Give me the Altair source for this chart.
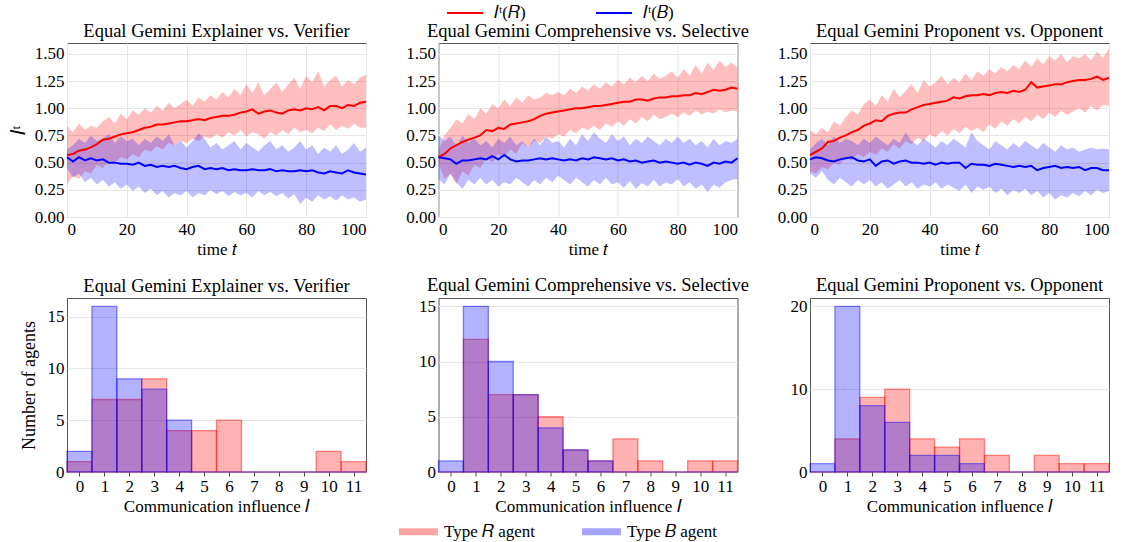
import altair as alt
import pandas as pd

FONT = "Liberation Serif"
FS = 17
TFS = 18.5

T = list(range(0, 101, 2))

# ---- Explainer vs. Verifier ----
EV_R_MEAN = [0.57, 0.58, 0.61, 0.62, 0.64, 0.67, 0.71, 0.72, 0.74, 0.76, 0.77, 0.78, 0.80, 0.82, 0.83, 0.85, 0.85, 0.86, 0.87, 0.88, 0.88, 0.89, 0.90, 0.89, 0.91, 0.92, 0.93, 0.93, 0.94, 0.96, 0.97, 0.99, 0.95, 0.97, 0.98, 0.96, 0.95, 0.98, 0.99, 0.98, 1.00, 0.99, 1.01, 0.98, 1.02, 1.02, 1.00, 1.03, 1.02, 1.05, 1.06]
EV_R_HI = [0.84, 0.78, 0.86, 0.80, 0.84, 0.82, 0.88, 0.92, 0.86, 0.95, 0.90, 0.98, 0.94, 1.00, 0.96, 1.02, 0.98, 1.05, 1.00, 1.04, 1.08, 1.02, 1.10, 1.06, 1.12, 1.08, 1.15, 1.10, 1.18, 1.12, 1.22, 1.14, 1.24, 1.12, 1.18, 1.24, 1.15, 1.22, 1.28, 1.18, 1.30, 1.24, 1.34, 1.20, 1.26, 1.30, 1.20, 1.26, 1.22, 1.28, 1.31]
EV_R_LO = [0.30, 0.38, 0.35, 0.42, 0.40, 0.48, 0.45, 0.52, 0.50, 0.55, 0.53, 0.58, 0.55, 0.62, 0.60, 0.65, 0.62, 0.68, 0.66, 0.70, 0.68, 0.72, 0.70, 0.74, 0.72, 0.76, 0.73, 0.78, 0.75, 0.80, 0.74, 0.78, 0.76, 0.72, 0.78, 0.75, 0.80, 0.76, 0.82, 0.78, 0.80, 0.77, 0.82, 0.79, 0.85, 0.80, 0.84, 0.81, 0.86, 0.82, 0.82]
EV_B_MEAN = [0.55, 0.51, 0.55, 0.52, 0.54, 0.52, 0.53, 0.50, 0.50, 0.49, 0.49, 0.48, 0.50, 0.47, 0.48, 0.46, 0.47, 0.46, 0.47, 0.45, 0.44, 0.46, 0.47, 0.44, 0.45, 0.44, 0.45, 0.43, 0.44, 0.43, 0.43, 0.44, 0.43, 0.43, 0.44, 0.42, 0.43, 0.42, 0.42, 0.43, 0.42, 0.43, 0.41, 0.40, 0.42, 0.41, 0.40, 0.43, 0.41, 0.40, 0.39]
EV_B_HI = [0.62, 0.66, 0.72, 0.68, 0.75, 0.70, 0.72, 0.76, 0.68, 0.74, 0.70, 0.72, 0.66, 0.72, 0.68, 0.74, 0.70, 0.76, 0.66, 0.70, 0.64, 0.70, 0.77, 0.72, 0.64, 0.68, 0.62, 0.66, 0.70, 0.62, 0.68, 0.64, 0.60, 0.66, 0.70, 0.62, 0.66, 0.60, 0.64, 0.70, 0.62, 0.66, 0.58, 0.64, 0.60, 0.66, 0.58, 0.62, 0.68, 0.60, 0.64]
EV_B_LO = [0.45, 0.36, 0.40, 0.32, 0.36, 0.30, 0.34, 0.28, 0.32, 0.26, 0.30, 0.24, 0.28, 0.22, 0.26, 0.20, 0.24, 0.18, 0.22, 0.20, 0.24, 0.18, 0.22, 0.20, 0.25, 0.21, 0.24, 0.19, 0.23, 0.20, 0.22, 0.18, 0.24, 0.20, 0.23, 0.19, 0.22, 0.17, 0.21, 0.12, 0.18, 0.14, 0.20, 0.16, 0.19, 0.15, 0.20, 0.16, 0.18, 0.14, 0.16]

# ---- Comprehensive vs. Selective ----
CS_R_MEAN = [0.55, 0.58, 0.63, 0.66, 0.69, 0.71, 0.73, 0.75, 0.80, 0.79, 0.82, 0.81, 0.85, 0.86, 0.87, 0.88, 0.90, 0.93, 0.95, 0.96, 0.97, 0.98, 0.99, 1.00, 1.00, 1.01, 1.02, 1.02, 1.03, 1.04, 1.05, 1.06, 1.06, 1.08, 1.08, 1.07, 1.09, 1.10, 1.10, 1.11, 1.11, 1.12, 1.12, 1.14, 1.13, 1.15, 1.17, 1.16, 1.17, 1.19, 1.18]
CS_R_HI = [0.60, 0.75, 0.82, 0.90, 0.86, 0.95, 0.90, 1.00, 0.95, 1.04, 1.00, 1.08, 1.02, 1.10, 1.05, 1.12, 1.08, 1.10, 1.14, 1.12, 1.15, 1.12, 1.18, 1.14, 1.20, 1.16, 1.22, 1.18, 1.24, 1.20, 1.26, 1.22, 1.28, 1.24, 1.30, 1.25, 1.32, 1.27, 1.30, 1.34, 1.28, 1.36, 1.30, 1.40, 1.32, 1.42, 1.35, 1.44, 1.38, 1.42, 1.37]
CS_R_LO = [0.50, 0.35, 0.40, 0.30, 0.42, 0.38, 0.48, 0.45, 0.55, 0.50, 0.58, 0.55, 0.62, 0.58, 0.68, 0.64, 0.70, 0.68, 0.74, 0.72, 0.76, 0.74, 0.80, 0.77, 0.82, 0.80, 0.84, 0.80, 0.86, 0.83, 0.88, 0.84, 0.90, 0.86, 0.92, 0.88, 0.94, 0.90, 0.92, 0.95, 0.92, 0.96, 0.93, 0.98, 0.94, 0.97, 0.95, 0.99, 0.96, 0.98, 0.97]
CS_B_MEAN = [0.55, 0.54, 0.53, 0.49, 0.52, 0.52, 0.53, 0.54, 0.53, 0.56, 0.53, 0.57, 0.53, 0.51, 0.52, 0.52, 0.53, 0.54, 0.53, 0.54, 0.53, 0.52, 0.53, 0.52, 0.54, 0.53, 0.55, 0.54, 0.53, 0.54, 0.52, 0.53, 0.51, 0.52, 0.50, 0.51, 0.52, 0.50, 0.51, 0.50, 0.49, 0.50, 0.48, 0.50, 0.49, 0.47, 0.50, 0.49, 0.51, 0.50, 0.54]
CS_B_HI = [0.75, 0.70, 0.74, 0.65, 0.75, 0.68, 0.72, 0.66, 0.70, 0.64, 0.72, 0.68, 0.74, 0.66, 0.70, 0.64, 0.72, 0.66, 0.74, 0.68, 0.70, 0.64, 0.72, 0.66, 0.76, 0.70, 0.78, 0.72, 0.68, 0.76, 0.70, 0.74, 0.66, 0.72, 0.68, 0.74, 0.70, 0.66, 0.72, 0.68, 0.74, 0.68, 0.72, 0.66, 0.70, 0.64, 0.72, 0.66, 0.70, 0.68, 0.72]
CS_B_LO = [0.35, 0.30, 0.40, 0.32, 0.26, 0.34, 0.30, 0.36, 0.30, 0.34, 0.28, 0.32, 0.30, 0.36, 0.32, 0.28, 0.34, 0.30, 0.36, 0.32, 0.38, 0.34, 0.30, 0.36, 0.32, 0.28, 0.34, 0.30, 0.36, 0.30, 0.32, 0.27, 0.33, 0.26, 0.31, 0.28, 0.34, 0.28, 0.32, 0.30, 0.35, 0.28, 0.32, 0.26, 0.30, 0.23, 0.30, 0.27, 0.32, 0.34, 0.35]

# ---- Proponent vs. Opponent ----
PO_R_MEAN = [0.57, 0.60, 0.63, 0.69, 0.70, 0.73, 0.75, 0.78, 0.80, 0.84, 0.86, 0.89, 0.88, 0.93, 0.95, 0.96, 0.96, 0.99, 1.01, 1.03, 1.04, 1.05, 1.06, 1.07, 1.10, 1.09, 1.11, 1.12, 1.12, 1.13, 1.12, 1.14, 1.15, 1.14, 1.16, 1.15, 1.17, 1.24, 1.19, 1.20, 1.21, 1.22, 1.22, 1.24, 1.25, 1.26, 1.26, 1.27, 1.29, 1.26, 1.28]
PO_R_HI = [0.80, 0.76, 0.82, 0.78, 0.88, 0.84, 0.92, 0.98, 0.94, 1.04, 1.08, 1.02, 1.12, 1.06, 1.18, 1.10, 1.16, 1.22, 1.14, 1.26, 1.20, 1.24, 1.30, 1.22, 1.28, 1.24, 1.32, 1.26, 1.34, 1.30, 1.36, 1.32, 1.38, 1.34, 1.40, 1.36, 1.44, 1.38, 1.46, 1.40, 1.48, 1.44, 1.50, 1.42, 1.48, 1.46, 1.50, 1.44, 1.52, 1.46, 1.55]
PO_R_LO = [0.42, 0.40, 0.46, 0.44, 0.50, 0.48, 0.55, 0.52, 0.58, 0.55, 0.60, 0.57, 0.63, 0.60, 0.67, 0.63, 0.70, 0.67, 0.73, 0.70, 0.76, 0.73, 0.79, 0.75, 0.81, 0.77, 0.83, 0.79, 0.82, 0.78, 0.85, 0.81, 0.88, 0.84, 0.90, 0.86, 0.92, 0.88, 0.94, 0.90, 0.96, 0.92, 0.98, 0.94, 0.97, 1.00, 0.96, 1.02, 0.98, 1.03, 1.02]
PO_B_MEAN = [0.53, 0.55, 0.54, 0.52, 0.51, 0.53, 0.54, 0.55, 0.52, 0.51, 0.53, 0.47, 0.51, 0.52, 0.49, 0.51, 0.52, 0.50, 0.50, 0.49, 0.50, 0.48, 0.50, 0.49, 0.50, 0.50, 0.45, 0.49, 0.48, 0.48, 0.47, 0.49, 0.48, 0.47, 0.46, 0.47, 0.46, 0.47, 0.43, 0.45, 0.46, 0.47, 0.45, 0.46, 0.45, 0.46, 0.43, 0.45, 0.45, 0.43, 0.43]
PO_B_HI = [0.62, 0.68, 0.72, 0.66, 0.74, 0.68, 0.72, 0.70, 0.66, 0.72, 0.68, 0.74, 0.70, 0.66, 0.72, 0.68, 0.78, 0.70, 0.66, 0.72, 0.68, 0.64, 0.70, 0.66, 0.72, 0.68, 0.64, 0.78, 0.70, 0.66, 0.62, 0.70, 0.66, 0.62, 0.68, 0.64, 0.70, 0.66, 0.62, 0.68, 0.64, 0.60, 0.66, 0.62, 0.64, 0.60, 0.62, 0.64, 0.62, 0.63, 0.62]
PO_B_LO = [0.40, 0.36, 0.42, 0.34, 0.30, 0.36, 0.32, 0.28, 0.34, 0.30, 0.34, 0.28, 0.32, 0.26, 0.30, 0.34, 0.28, 0.32, 0.26, 0.30, 0.28, 0.32, 0.26, 0.30, 0.27, 0.24, 0.30, 0.22, 0.28, 0.25, 0.28, 0.22, 0.26, 0.20, 0.25, 0.22, 0.26, 0.20, 0.24, 0.18, 0.22, 0.16, 0.20, 0.18, 0.22, 0.19, 0.24, 0.20, 0.25, 0.22, 0.24]

# ---- Histograms (counts per communication influence value) ----
BINS = list(range(12))
EV_HIST_R = [1, 7, 7, 9, 4, 4, 5, 0, 0, 0, 2, 1]
EV_HIST_B = [2, 16, 9, 8, 5, 0, 0, 0, 0, 0, 0, 0]
CS_HIST_R = [0, 12, 7, 7, 5, 2, 1, 3, 1, 0, 1, 1]
CS_HIST_B = [1, 15, 10, 7, 4, 2, 1, 0, 0, 0, 0, 0]
PO_HIST_R = [0, 4, 9, 10, 4, 3, 4, 2, 0, 2, 1, 1]
PO_HIST_B = [1, 20, 8, 6, 2, 2, 1, 0, 0, 0, 0, 0]
HIST_YMAX = [16.8, 15.75, 21.0]
HIST_YTICKS = [[0, 5, 10, 15], [0, 5, 10, 15], [0, 10, 20]]

TITLES = ["Equal Gemini Explainer vs. Verifier",
          "Equal Gemini Comprehensive vs. Selective",
          "Equal Gemini Proponent vs. Opponent"]

LINE_R = "𝐼ᵗ(𝑅)"
LINE_B = "𝐼ᵗ(𝐵)"
AGENT_R = "Type 𝑅 agent"
AGENT_B = "Type 𝐵 agent"

RED = "#ff0000"
BLUE = "#0000ff"
W, H = 299, 174
LINE_SYMBOL = "M-2,0H2"


def title_params(text):
    return alt.TitleParams(text=text, fontSize=TFS, font=FONT, fontWeight="normal",
                           color="black", offset=3)


def line_panel(idx, r, b):
    n = len(T)
    df = pd.DataFrame({
        "t": T * 2,
        "mean": r[0] + b[0],
        "lo": r[1] + b[1],
        "hi": r[2] + b[2],
        "series": [LINE_R] * n + [LINE_B] * n,
    })
    xax = alt.X("t:Q", scale=alt.Scale(domain=[0, 100], nice=False),
                axis=alt.Axis(values=[0, 20, 40, 60, 80, 100], title="time 𝑡",
                              grid=True, tickSize=0, labelPadding=4))
    yaxis = alt.Axis(values=[0, 0.25, 0.5, 0.75, 1.0, 1.25, 1.5], format=".2f",
                     title=("𝐼ᵗ" if idx == 0 else None), grid=True, tickSize=0,
                     labelPadding=3, titleFontSize=20, titlePadding=6)
    yscale = alt.Scale(domain=[0, 1.6], nice=False)
    base = alt.Chart(df)
    area_r = base.transform_filter(alt.datum.series == LINE_R).mark_area(
        color=RED, opacity=0.25).encode(
        x=xax, y=alt.Y("lo:Q", scale=yscale, axis=yaxis), y2="hi:Q")
    area_b = base.transform_filter(alt.datum.series == LINE_B).mark_area(
        color=BLUE, opacity=0.25).encode(
        x=xax, y=alt.Y("lo:Q", scale=yscale, axis=yaxis), y2="hi:Q")
    lines = base.mark_line(strokeWidth=2).encode(
        x=xax,
        y=alt.Y("mean:Q", scale=yscale, axis=yaxis),
        color=alt.Color("series:N",
                        scale=alt.Scale(domain=[LINE_R, LINE_B], range=[RED, BLUE]),
                        legend=alt.Legend(orient="none", direction="horizontal",
                                          title=None, legendX=388, legendY=-40,
                                          symbolType=LINE_SYMBOL, symbolStrokeWidth=2,
                                          symbolSize=324, labelFontSize=FS,
                                          labelFont=FONT, columnPadding=66,
                                          labelOffset=19)),
        detail="series:N",
    )
    return alt.layer(area_r, area_b, lines).properties(
        width=W, height=H, title=title_params(TITLES[idx]))


def hist_panel(idx, hr, hb):
    n = len(BINS)
    df = pd.DataFrame({
        "lo": [v - 0.5 for v in BINS] * 2,
        "hi": [v + 0.5 for v in BINS] * 2,
        "count": hr + hb,
        "agent": [AGENT_R] * n + [AGENT_B] * n,
    })
    sc = alt.Scale(domain=[AGENT_R, AGENT_B], range=[RED, BLUE])
    leg = alt.Legend(orient="none", direction="horizontal", title=None,
                     legendX=338, legendY=H + 46, symbolType=LINE_SYMBOL,
                     symbolStrokeWidth=7, symbolSize=380, symbolOpacity=0.35,
                     labelFontSize=FS, labelFont=FONT, columnPadding=32,
                     labelOffset=12)
    bars = alt.Chart(df).mark_bar(fillOpacity=0.3, strokeOpacity=0.45,
                                  strokeWidth=1.3).encode(
        x=alt.X("lo:Q", scale=alt.Scale(domain=[-0.5, 11.5], nice=False, zero=False),
                axis=alt.Axis(values=BINS, title="Communication influence 𝐼",
                              grid=False, tickSize=4, labelPadding=2)),
        x2="hi:Q",
        y=alt.Y("count:Q", scale=alt.Scale(domain=[0, HIST_YMAX[idx]], nice=False),
                axis=alt.Axis(values=HIST_YTICKS[idx], grid=True, tickSize=0,
                              title=("Number of agents" if idx == 0 else None),
                              labelPadding=3, titleFontSize=18, titlePadding=9)),
        y2=alt.datum(0),
        fill=alt.Fill("agent:N", scale=sc, legend=leg),
        stroke=alt.Stroke("agent:N", scale=sc, legend=leg),
        order=alt.Order("ord:Q"),
    ).transform_calculate(ord="datum.agent == '" + AGENT_R + "' ? 0 : 1")
    return bars.properties(width=W, height=H, title=title_params(TITLES[idx]))


top = alt.hconcat(
    line_panel(0, (EV_R_MEAN, EV_R_LO, EV_R_HI), (EV_B_MEAN, EV_B_LO, EV_B_HI)),
    line_panel(1, (CS_R_MEAN, CS_R_LO, CS_R_HI), (CS_B_MEAN, CS_B_LO, CS_B_HI)),
    line_panel(2, (PO_R_MEAN, PO_R_LO, PO_R_HI), (PO_B_MEAN, PO_B_LO, PO_B_HI)),
    spacing=72.5, bounds="flush",
)
bottom = alt.hconcat(
    hist_panel(0, EV_HIST_R, EV_HIST_B),
    hist_panel(1, CS_HIST_R, CS_HIST_B),
    hist_panel(2, PO_HIST_R, PO_HIST_B),
    spacing=72.5, bounds="flush",
)

chart = alt.vconcat(top, bottom, spacing=17).resolve_scale(
    color="independent", fill="independent", stroke="independent",
    x="independent", y="independent"
).configure(
    font=FONT,
).configure_view(
    stroke="#555555", strokeWidth=1,
).configure_axis(
    labelFont=FONT, titleFont=FONT, labelFontSize=FS, titleFontSize=FS,
    labelColor="black", titleColor="black", titleFontWeight="normal",
    gridColor="#e6e6e6", gridWidth=1, domain=False, tickColor="#444444",
    titlePadding=4,
).configure_legend(
    labelFont=FONT, labelColor="black",
).properties(padding={"left": 7, "top": 3, "right": 5, "bottom": 5})

chart.save("out.html", embed_options={"renderer": "svg", "actions": False})
